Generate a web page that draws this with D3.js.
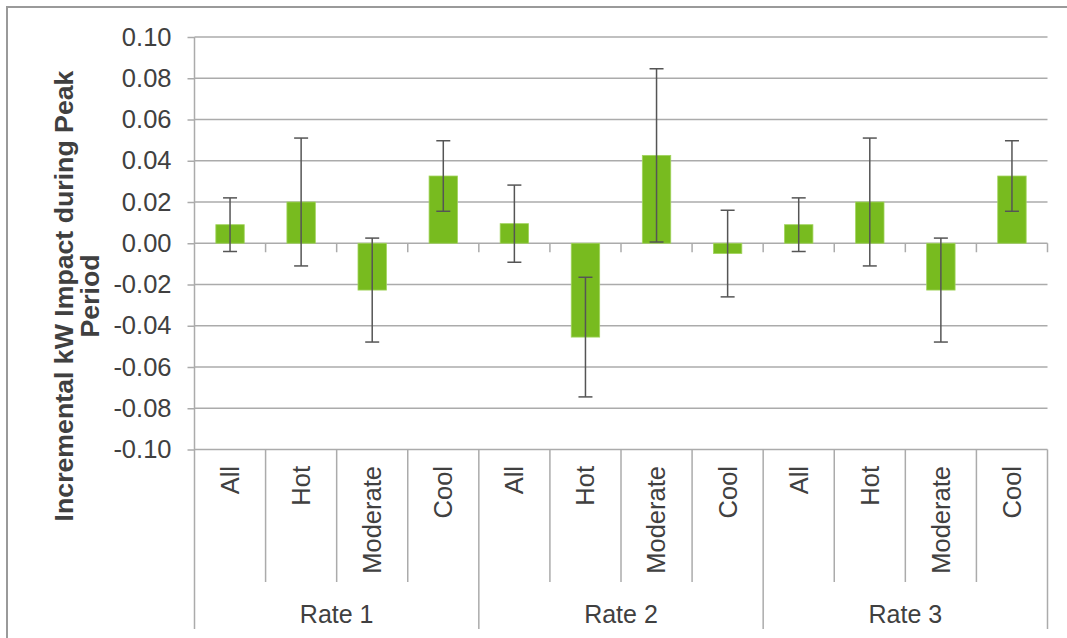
<!DOCTYPE html>
<html>
<head>
<meta charset="utf-8">
<script src="https://cdn.jsdelivr.net/npm/d3@7"></script>
<style>
  html, body { margin: 0; padding: 0; background: #ffffff; }
  svg { display: block; font-family: "Liberation Sans", Arial, sans-serif; }
</style>
</head>
<body>
<svg id="chart" width="1067" height="638"></svg>
<script>
// ---- data ----
const groups = ["Rate 1", "Rate 2", "Rate 3"];
const subcats = ["All", "Hot", "Moderate", "Cool"];
const rate1Values = [0.009, 0.020, -0.0227, 0.0326];
const rate1Errors = [0.013, 0.031, 0.0252, 0.0171];
const rate2Values = [0.0095, -0.0455, 0.0426, -0.005];
const rate2Errors = [0.0187, 0.029, 0.042, 0.021];
const rate3Values = [0.009, 0.020, -0.0227, 0.0326];
const rate3Errors = [0.013, 0.031, 0.0252, 0.0171];
const yTicks = [0.10, 0.08, 0.06, 0.04, 0.02, 0.00, -0.02, -0.04, -0.06, -0.08, -0.10];
const yTitleLines = ["Incremental kW Impact during Peak", "Period"];

(function () {
const groupValues = [rate1Values, rate2Values, rate3Values];
const groupErrors = [rate1Errors, rate2Errors, rate3Errors];
const rows = [];
groups.forEach((g, gi) => subcats.forEach((c, ci) => rows.push({
  key: g + "|" + c, group: g, cat: c, value: groupValues[gi][ci], err: groupErrors[gi][ci]
})));

// ---- layout ----
const svg = d3.select("#chart");
const pLeft = 194.5, pRight = 1047.5, pTop = 37, pBottom = 449.5;
const labelInnerBottom = 582, labelOuterBottom = 629;
const gridColor = "#ababab";
const textColor = "#404040";

// frame
svg.append("rect").attr("x", 7).attr("y", 7).attr("width", 1200).attr("height", 800)
  .attr("fill", "none").attr("stroke", "#9a9a9a").attr("stroke-width", 2);

const x = d3.scaleBand().domain(rows.map(d => d.key)).range([pLeft, pRight]).paddingInner(0).paddingOuter(0);
const y = d3.scaleLinear().domain([-0.10, 0.10]).range([pBottom, pTop]);

// gridlines
svg.append("g").selectAll("line").data(yTicks).join("line")
  .attr("x1", pLeft).attr("x2", pRight)
  .attr("y1", d => y(d)).attr("y2", d => y(d))
  .attr("stroke", gridColor).attr("stroke-width", 1.5);

// y axis
const yAxis = d3.axisLeft(y).tickValues(yTicks).tickFormat(d => d3.format(".2f")(d).replace("\u2212", "-")).tickSize(7).tickPadding(16);
const yg = svg.append("g").attr("transform", `translate(${pLeft},0)`).call(yAxis);
yg.select(".domain").remove();
yg.selectAll(".tick line").attr("stroke", gridColor).attr("stroke-width", 1.5);
yg.selectAll(".tick text").attr("fill", textColor).style("font-size", "25.5px")
  .style("font-family", '"Liberation Sans", Arial, sans-serif');

// left axis line (extends through label area)
svg.append("line").attr("x1", pLeft).attr("x2", pLeft).attr("y1", pTop).attr("y2", labelOuterBottom)
  .attr("stroke", gridColor).attr("stroke-width", 1.5);

// bars
const barW = x.bandwidth() * 0.4;
svg.append("g").selectAll("rect").data(rows).join("rect")
  .attr("x", d => x(d.key) + (x.bandwidth() - barW) / 2)
  .attr("width", barW)
  .attr("y", d => y(Math.max(0, d.value)))
  .attr("height", d => Math.abs(y(d.value) - y(0)))
  .attr("fill", "#78bb1f").attr("stroke", "#a2d45e").attr("stroke-width", 0.8);

// zero-line ticks at category boundaries
const boundaries = rows.map(d => x(d.key) + x.bandwidth());
svg.append("g").selectAll("line").data(boundaries).join("line")
  .attr("x1", d => d).attr("x2", d => d).attr("y1", y(0)).attr("y2", y(0) + 9)
  .attr("stroke", gridColor).attr("stroke-width", 1.5);

// error bars
const eg = svg.append("g").attr("stroke", "#555555").attr("stroke-width", 1.5);
rows.forEach(d => {
  const cx = x(d.key) + x.bandwidth() / 2;
  eg.append("line").attr("x1", cx).attr("x2", cx).attr("y1", y(d.value + d.err)).attr("y2", y(d.value - d.err));
  [d.value + d.err, d.value - d.err].forEach(v => {
    eg.append("line").attr("x1", cx - 7).attr("x2", cx + 7).attr("y1", y(v)).attr("y2", y(v));
  });
});

// category label area lines
rows.forEach((d, i) => {
  const bx = x(d.key) + x.bandwidth();
  const isGroupEnd = (i % subcats.length) === subcats.length - 1;
  svg.append("line").attr("x1", bx).attr("x2", bx).attr("y1", pBottom)
    .attr("y2", isGroupEnd ? labelOuterBottom : labelInnerBottom)
    .attr("stroke", gridColor).attr("stroke-width", 1.5);
});

// category labels
svg.append("g").selectAll("text").data(rows).join("text")
  .attr("transform", d => `translate(${x(d.key) + x.bandwidth() / 2},466) rotate(-90)`)
  .attr("text-anchor", "end").attr("dy", "0.35em")
  .attr("fill", textColor).style("font-size", "25.5px")
  .text(d => d.cat);

// group labels
groups.forEach(g => {
  const ks = rows.filter(r => r.group === g).map(r => r.key);
  const gx = (x(ks[0]) + x(ks[ks.length - 1]) + x.bandwidth()) / 2;
  svg.append("text").attr("x", gx).attr("y", 623).attr("text-anchor", "middle")
    .attr("fill", textColor).style("font-size", "25px").text(g);
});

// y title
const yt = svg.append("text")
  .attr("transform", "translate(73,296) rotate(-90)")
  .attr("text-anchor", "middle").attr("fill", textColor)
  .style("font-size", "26.7px").style("font-weight", "bold");
yTitleLines.forEach((t, i) => {
  yt.append("tspan").attr("x", 0).attr("y", i * 26).text(t);
});
})();
</script>
</body>
</html>
